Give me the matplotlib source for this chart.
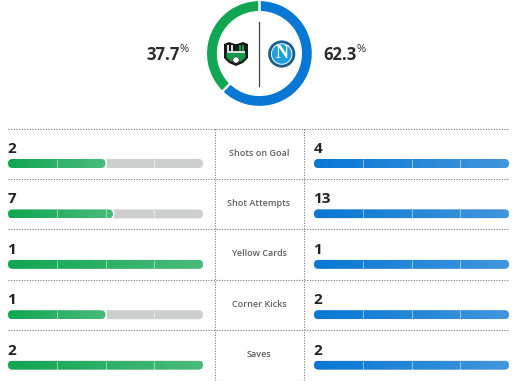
import numpy as np
import matplotlib
matplotlib.use('Agg')
import matplotlib.pyplot as plt
from matplotlib.colors import LinearSegmentedColormap
from matplotlib.patches import Circle, FancyBboxPatch, Polygon, Rectangle

plt.rcParams['font.family'] = ['Open Sans', 'DejaVu Sans']

# Data
possession = [37.7, 62.3]
stat_names = ['Shots on Goal', 'Shot Attempts', 'Yellow Cards', 'Corner Kicks', 'Saves']
home_values = [2, 7, 1, 1, 2]
away_values = [4, 13, 1, 2, 2]

GREEN = '#10A652'
BLUE = '#0878D4'
home_cmap = LinearSegmentedColormap.from_list('home', [GREEN, '#4ABB7B'])
away_cmap = LinearSegmentedColormap.from_list('away', [BLUE, '#4296DC'])
gradient = np.linspace(0, 1, 256).reshape(1, -1)

W, H = 519, 381
fig = plt.figure(figsize=(W / 100, H / 100), dpi=100)
ax = fig.add_axes([0, 0, 1, 1])  # main axes is in pixels, y going down
ax.axis('off')


def pill(x0, y0, width, height, **kw):
    return FancyBboxPatch((x0, y0), width, height, boxstyle='round,pad=0,rounding_size=4.5',
                          lw=0, **kw)


def draw_bar(x0, y0, width, share, cmap):
    height = 9
    ax.add_patch(pill(x0, y0, width, height, fc='#CDCFCE', zorder=2))
    fill = width * share
    if share < 1:
        # white notch at the end of a partial bar
        ax.add_patch(pill(x0, y0 - 0.5, fill + 1.5, height + 1, fc='white', zorder=3))
    im = ax.imshow(gradient, cmap=cmap, extent=[x0, x0 + fill, y0 + height, y0],
                   aspect='auto', zorder=4, vmin=0, vmax=1)
    im.set_clip_path(pill(x0, y0, fill, height, transform=ax.transData))
    # quarter ticks
    for q in [0.25, 0.5, 0.75]:
        ax.plot([x0 + width * q] * 2, [y0, y0 + height], color='white', lw=0.7,
                alpha=0.5, zorder=5, solid_capstyle='butt')


# Rows
row_top = 128.5
row_h = 50.4
left_x, right_x, bar_w = 8, 314, 195
dots = dict(color='#777777', lw=0.8, linestyle=(0, (1, 1.4)), zorder=1)
for i, name in enumerate(stat_names):
    y = row_top + i * row_h
    ax.plot([8, 509], [y, y], **dots)
    scale = max(home_values[i], away_values[i])
    draw_bar(left_x, y + 30.5, bar_w, home_values[i] / scale, home_cmap)
    draw_bar(right_x, y + 30.5, bar_w, away_values[i] / scale, away_cmap)
    ax.text(left_x - 0.5, y + 20.5, str(home_values[i]), fontsize=11, fontweight='bold',
            color='#222222', ha='left', va='center')
    ax.text(right_x - 0.5, y + 20.5, str(away_values[i]), fontsize=11, fontweight='bold',
            color='#222222', ha='left', va='center')
    ax.text(259, y + 24.5, name, fontsize=6.5, fontweight='semibold', color='#5E5E5E',
            ha='center', va='center')
for x in [214.7, 303.5]:
    ax.plot([x, x], [row_top, 381], **dots)
ax.plot([0, W], [380.5, 380.5], color='#EEEEEE', lw=1)

# Centre divider and possession text
ax.plot([259.4, 259.4], [22, 86], color='#444444', lw=0.9)
ax.text(180, 54.5, f'{possession[0]}', fontsize=12, fontweight='bold', color='#2B2B2B',
        ha='right', va='center')
ax.text(180, 50, '%', fontsize=8, color='#2B2B2B', ha='left', va='center')
ax.text(323, 54.5, f'{possession[1]}', fontsize=12, fontweight='bold', color='#2B2B2B',
        ha='left', va='center')
ax.text(356.5, 50, '%', fontsize=8, color='#2B2B2B', ha='left', va='center')

# Sassuolo crest, rough shield
ax.add_patch(Polygon([(224, 44), (229, 42), (235, 44), (237, 44), (243, 42), (248, 44),
                      (248, 58), (243, 63), (236, 66), (229, 63), (224, 58)],
                     closed=True, fc='#1A1A1A', ec='none', zorder=3))
ax.add_patch(Polygon([(226.5, 53), (245.5, 53), (245.5, 57.5), (241, 61.5), (231, 61.5), (226.5, 57.5)],
                     closed=True, fc='#159A4A', ec='none', zorder=4))
for x in [227, 231]:
    ax.add_patch(Rectangle((x, 45), 2.2, 5.5, fc='#D8D8D8', ec='none', zorder=4))
for x in [238.5, 242]:
    ax.add_patch(Rectangle((x, 45), 2.2, 5.5, fc='#159A4A', ec='none', zorder=4))
ax.add_patch(Rectangle((227, 50.5), 18, 2, fc='#DDDDDD', ec='none', zorder=5))
ax.add_patch(Circle((236, 60), 3.1, fc='white', ec='#333333', lw=0.4, zorder=6))

# Napoli badge
ax.add_patch(Circle((281.7, 54), 13.6, fc='#1B5F8A', ec='none', zorder=3))
ax.add_patch(Circle((281.7, 54), 10.8, fc='#F2F8FC', ec='none', zorder=4))
ax.add_patch(Circle((281.7, 54), 9.8, fc='#1FA0DC', ec='none', zorder=5))
ax.text(281.7, 53.7, 'N', fontsize=13, family='Liberation Serif', fontweight='bold', color='white',
        ha='center', va='center', zorder=6)

ax.set_xlim(0, W)
ax.set_ylim(H, 0)

# Possession donut, away side runs clockwise from the top
cx, cy, r = 259.4, 53.5, 53.5
ax_pie = fig.add_axes([(cx - r) / W, 1 - (cy + r) / H, 2 * r / W, 2 * r / H])
ax_pie.pie(possession[::-1], colors=[BLUE, GREEN], startangle=90, counterclock=False, radius=1,
           wedgeprops=dict(width=0.225, edgecolor='white', linewidth=1.6))
ax_pie.set_xlim(-1, 1)
ax_pie.set_ylim(-1, 1)
ax_pie.patch.set_alpha(0)

fig.savefig('out.png', dpi=100)
